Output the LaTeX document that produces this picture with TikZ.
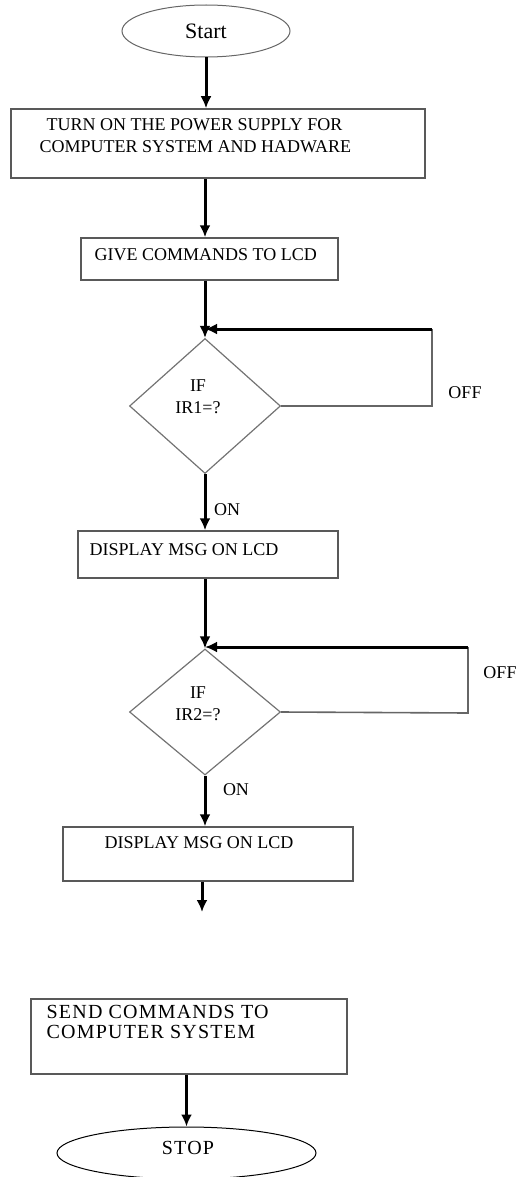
\documentclass[tikz,border=0pt]{standalone}
\usepackage{fontspec}
\setmainfont{Liberation Serif}
\newfontfamily\widefont[LetterSpace=6]{Liberation Serif}
\usetikzlibrary{arrows.meta,shapes.geometric}

\begin{document}
\begin{tikzpicture}[x=0.5pt,y=-0.5pt,
  box/.style={draw=black!65,line width=0.75pt,rectangle,inner sep=0pt},
  oval/.style={draw=black!60,line width=0.5pt,ellipse,inner sep=0pt},
  decision/.style={draw=black!55,line width=0.6pt,diamond,inner sep=0pt},
  intext/.style={anchor=north west,inner sep=0pt,align=left,font=\fontsize{9}{11}\selectfont},
  lbl/.style={inner sep=0pt,font=\fontsize{9}{11}\selectfont},
  arr/.style={-{Latex[length=6pt,width=5.5pt]},line width=1.5pt},
  loopln/.style={draw=black!60,line width=0.8pt}]
  \useasboundingbox (0,0) rectangle (519,1177);
  % start and power up
  \node[oval,minimum width=84pt,minimum height=26pt,font=\fontsize{11}{13}\selectfont] (start) at (206,31) {Start};
  \node[box,minimum width=207pt,minimum height=34.5pt] (b1) at (218,143.5) {};
  \node[intext] (t1) at ([shift={(29,10)}]b1.north west) {\hspace*{3.5pt}TURN ON THE POWER SUPPLY FOR\\COMPUTER SYSTEM AND HADWARE};
  \node[box,minimum width=128.5pt,minimum height=21pt] (b2) at (209.5,259) {};
  \node[intext] (t2) at ([shift={(14,11)}]b2.north west) {GIVE COMMANDS TO LCD};
  % first sensor
  \node[decision,minimum width=75.5pt,minimum height=67.5pt] (d1) at (205,406) {};
  \node[lbl,align=center] (q1) at ([shift={(-7,-9)}]d1.center) {IF\\IR1=?};
  \coordinate (j1) at (205,329);
  \coordinate (c1a) at (432,329);
  \coordinate (c1b) at (432,406);
  \node[lbl] (off1) at (465,393) {OFF};
  \node[lbl] (on1) at (227,510) {ON};
  \node[box,minimum width=130pt,minimum height=23.5pt] (b3) at (208,554.5) {};
  \node[intext] (t3) at ([shift={(12,13)}]b3.north west) {DISPLAY MSG ON LCD};
  % second sensor
  \node[decision,minimum width=75.5pt,minimum height=63pt] (d2) at (205,712) {};
  \node[lbl,align=center] (q2) at ([shift={(-7,-8)}]d2.center) {IF\\IR2=?};
  \coordinate (j2) at (205,647);
  \coordinate (c2a) at (468,647);
  \coordinate (c2b) at (468,713);
  \node[lbl] (off2) at (500,673) {OFF};
  \node[lbl] (on2) at (236,790) {ON};
  \node[box,minimum width=145pt,minimum height=27pt] (b4) at (208,854) {};
  \node[intext] (t4) at ([shift={(42,10)}]b4.north west) {DISPLAY MSG ON LCD};
  \coordinate (e1) at (202,912);
  % end
  \node[box,minimum width=158pt,minimum height=37.5pt] (b5) at (189,1036.5) {};
  \node[intext,font=\widefont\fontsize{10}{10}\selectfont] (t5) at ([shift={(16,7)}]b5.north west) {SEND COMMANDS TO\\COMPUTER SYSTEM};
  \node[oval,draw=black,minimum width=129.5pt,minimum height=26pt] (stop) at (186.5,1153) {};
  \node[lbl,font=\widefont\fontsize{10}{12}\selectfont] (st) at (188,1148) {STOP};
  % connectors
  \draw[arr] (start.south) -- (start.south |- b1.north);
  \draw[arr] (b1.south -| d1.north) -- (b2.north -| d1.north);
  \draw[arr] (b2.south -| d1.north) -- (d1.north);
  \draw[loopln] (d1.east) -- (c1b) -- (c1a);
  \draw[arr] (c1a) -- (j1);
  \draw[arr] (d1.south) -- (b3.north -| d1.south);
  \draw[arr] (b3.south -| d2.north) -- (d2.north);
  \draw[loopln] (d2.east) -- (c2b) -- (c2a);
  \draw[arr] (c2a) -- (j2);
  \draw[arr] (d2.south) -- (b4.north -| d2.south);
  \draw[arr] (e1 |- b4.south) -- (e1);
  \draw[arr] (stop.north |- b5.south) -- (stop.north);
\end{tikzpicture}
\end{document}
